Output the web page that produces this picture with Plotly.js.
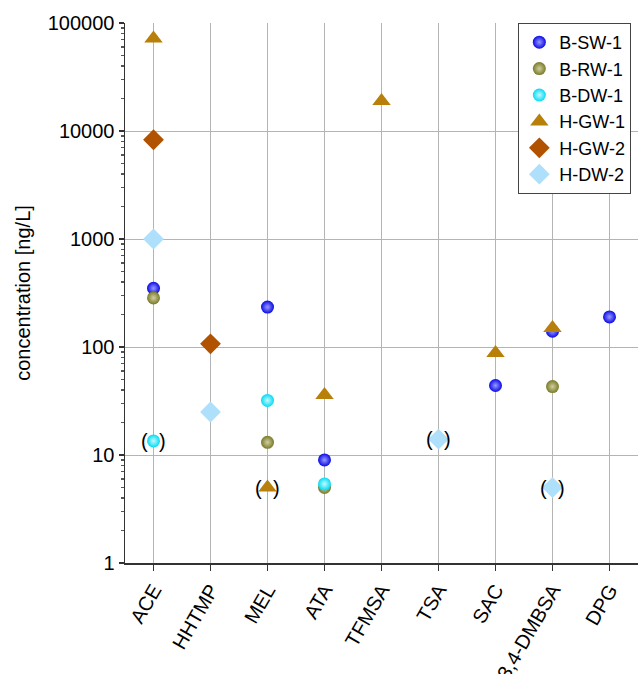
<!DOCTYPE html>
<html>
<head>
<meta charset="utf-8">
<script src="https://cdn.plot.ly/plotly-3.0.1.min.js"></script>
<style>html,body{margin:0;padding:0;background:#fff;}#chart{width:638px;height:674px;}</style>
</head>
<body>
<div id="chart"></div>
<script>
// ---- data ----
var categories = ['ACE', 'HHTMP', 'MEL', 'ATA', 'TFMSA', 'TSA', 'SAC', '3,4-DMBSA', 'DPG'];
var seriesNames = ['B-SW-1', 'B-RW-1', 'B-DW-1', 'H-GW-1', 'H-GW-2', 'H-DW-2'];
var B_SW_1 = [350, null, 234, 9.0, null, null, 44, 140, 190];
var B_RW_1 = [285, null, 13.1, 5.0, null, null, null, 43, null];
var B_DW_1 = [13.5, null, 32, 5.4, null, null, null, null, null];
var H_GW_1 = [72000, null, 5.0, 36, 19000, null, 88, 150, null];
var H_GW_2 = [8300, 107, null, null, null, null, null, null, null];
var H_DW_2 = [1000, 25, null, null, null, 14, null, 5.0, null];
// values shown in brackets
var bracketed = [
  {series: 'B-DW-1', category: 'ACE'},
  {series: 'H-GW-1', category: 'MEL'},
  {series: 'H-DW-2', category: 'TSA'},
  {series: 'H-DW-2', category: '3,4-DMBSA'}
];
var yTickVals = [1, 10, 100, 1000, 10000, 100000];
var yTickText = ['1', '10', '100', '1000', '10000', '100000'];

// ---- styles ----
var values = [B_SW_1, B_RW_1, B_DW_1, H_GW_1, H_GW_2, H_DW_2];
var styles = [
  {symbol: 'circle', color: '#0a0ae6', grad: '#9a9aff', size: 13},
  {symbol: 'circle', color: '#7a7a28', grad: '#d0d0a0', size: 13},
  {symbol: 'circle', color: '#00dcf5', grad: '#c8f8ff', size: 13},
  {symbol: 'triangle-up', color: '#b8800a', size: 16},
  {symbol: 'diamond', color: '#b05200', size: 16},
  {symbol: 'diamond', color: '#aee0fc', size: 16}
];
var FAM = 'Liberation Sans, Arial, sans-serif';

var traces = seriesNames.map(function (name, i) {
  var st = styles[i];
  var xs = [], ys = [];
  values[i].forEach(function (v, j) { if (v !== null) { xs.push(categories[j]); ys.push(v); } });
  var marker = {symbol: st.symbol, color: st.color, size: st.size, line: {width: 0}};
  if (st.grad) marker.gradient = {type: 'radial', color: st.grad};
  return {type: 'scatter', mode: 'markers', name: name, x: xs, y: ys, marker: marker, cliponaxis: false};
});

var annotations = [];
bracketed.forEach(function (b) {
  var si = seriesNames.indexOf(b.series);
  var ci = categories.indexOf(b.category);
  var v = values[si][ci];
  [['(', -9], [')', 9]].forEach(function (p) {
    annotations.push({x: b.category, y: Math.log10(v), xref: 'x', yref: 'y', text: p[0],
      showarrow: false, xshift: p[1], yshift: 0,
      font: {family: FAM, size: 20, color: '#000'}});
  });
});

var font = {family: FAM, size: 20, color: '#000'};
var layout = {
  width: 638, height: 674,
  margin: {l: 125, r: 0, t: 23, b: 111},
  paper_bgcolor: '#fff', plot_bgcolor: '#fff',
  font: font,
  showlegend: true,
  legend: {x: 0.987, xanchor: 'right', y: 1.0, yanchor: 'top', bordercolor: '#444', borderwidth: 1,
    bgcolor: '#fff', font: {family: FAM, size: 18, color: '#000'},
    tracegroupgap: 0, itemwidth: 30},
  xaxis: {
    type: 'category', categoryorder: 'array', categoryarray: categories,
    range: [-0.5, 8.5], tickangle: -60,
    showgrid: true, gridcolor: '#b4b4b4', gridwidth: 1,
    showline: true, linecolor: '#333', linewidth: 1.5,
    ticks: 'outside', ticklen: 6, tickcolor: '#333', tickwidth: 1.5,
    tickfont: font, zeroline: false
  },
  yaxis: {
    type: 'log', range: [0, 5],
    tickmode: 'array', tickvals: yTickVals, ticktext: yTickText,
    showgrid: true, gridcolor: '#b4b4b4', gridwidth: 1,
    showline: true, linecolor: '#333', linewidth: 1.5,
    ticks: 'outside', ticklen: 5, tickcolor: '#333', tickwidth: 1.5,
    minor: {dtick: 'D1', ticks: 'outside', ticklen: 3, tickcolor: '#555', showgrid: false},
    tickfont: font, zeroline: false,
    title: {text: 'concentration [ng/L]', font: {family: FAM, size: 20, color: '#000'}, standoff: 12}
  },
  annotations: annotations
};

Plotly.newPlot('chart', traces, layout, {displayModeBar: false, staticPlot: true});
</script>
</body>
</html>
